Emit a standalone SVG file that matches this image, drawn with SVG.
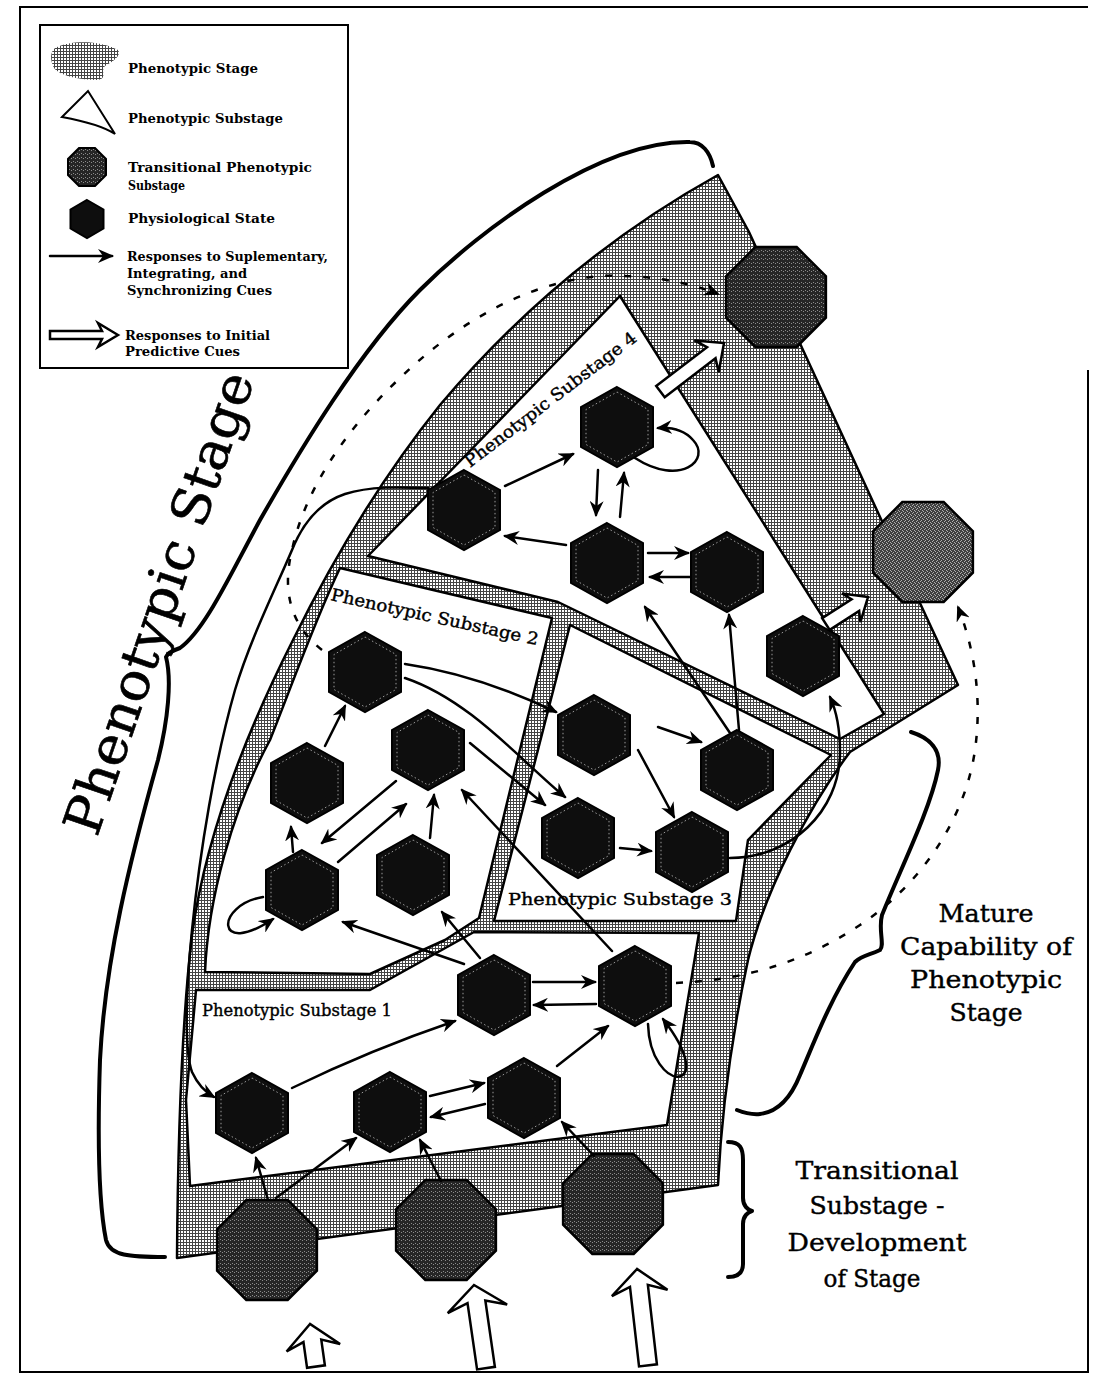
<svg xmlns="http://www.w3.org/2000/svg" width="1095" height="1377" viewBox="0 0 1095 1377">
<defs>
  <pattern id="stip" width="3" height="3" patternUnits="userSpaceOnUse">
    <rect width="3" height="3" fill="#fff"/>
    <rect width="3" height="1" fill="#444"/>
    <rect width="1" height="3" fill="#444"/>
  </pattern>
  <pattern id="octd" width="4" height="4" patternUnits="userSpaceOnUse">
    <rect width="4" height="4" fill="#262626"/>
    <rect x="1" y="1" width="1" height="1" fill="#8c8c8c"/>
    <rect x="3" y="2" width="1" height="1" fill="#8c8c8c"/>
  </pattern>
  <pattern id="octl" width="4" height="4" patternUnits="userSpaceOnUse">
    <rect width="4" height="4" fill="#404040"/>
    <rect x="1" y="1" width="1" height="1" fill="#b0b0b0"/>
    <rect x="3" y="2" width="1" height="1" fill="#b0b0b0"/>
    <rect x="0" y="3" width="1" height="1" fill="#b0b0b0"/>
    <rect x="2" y="0" width="1" height="1" fill="#b0b0b0"/>
  </pattern>
  <path id="hex" d="M0,-40 L36,-20 L36,20 L0,40 L-36,20 L-36,-20 Z"/>
  <path id="hexin" d="M0,-35 L31,-17.5 L31,17.5 L0,35 L-31,17.5 L-31,-17.5 Z"/>
  <path id="octp" d="M-20.7,-49.9 L20.7,-49.9 L49.9,-20.7 L49.9,20.7 L20.7,49.9 L-20.7,49.9 L-49.9,20.7 L-49.9,-20.7 Z"/>
  <marker id="ah" viewBox="0 0 16 14" refX="14" refY="7" markerWidth="16" markerHeight="14" markerUnits="userSpaceOnUse" orient="auto">
    <path d="M0,0 L16,7 L0,14 L5,7 Z" fill="#000"/>
  </marker>
  <style>
    .hx{fill:#0e0e0e;stroke:#000;stroke-width:2}
    .hxi{fill:none;stroke:#9a9a9a;stroke-width:1;stroke-dasharray:1.5 2.5}
    .oc{fill:url(#octd);stroke:#000;stroke-width:2.5}
    .ocl{fill:url(#octl);stroke:#000;stroke-width:2.5}
    .ln{fill:none;stroke:#000;stroke-width:2.5;stroke-linecap:round;marker-end:url(#ah)}
    .dash{fill:none;stroke:#000;stroke-width:2.5;stroke-dasharray:7 12;marker-end:url(#ah)}
    .br{fill:none;stroke:#000;stroke-width:4;stroke-linecap:round;stroke-linejoin:round}
    .sub{fill:#fff;stroke:#000;stroke-width:2.5;stroke-linejoin:round}
    .stage{fill:url(#stip);stroke:#000;stroke-width:2.5;stroke-linejoin:round}
    .ha{fill:#fff;stroke:#000;stroke-width:2.5;stroke-linejoin:miter}
    .lg{font-family:"DejaVu Serif","Liberation Serif",serif;font-weight:bold;font-size:12.5px;fill:#000}
    .lbl{font-family:"DejaVu Serif","Liberation Serif",serif;font-size:17px;fill:#000;stroke:#000;stroke-width:0.4}
    .big{font-family:"DejaVu Serif","Liberation Serif",serif;font-size:25px;fill:#000;stroke:#000;stroke-width:0.4}
  </style>
</defs>

<g id="frame" fill="none" stroke="#000" stroke-width="2">
  <path d="M1088,7 L20,7 L20,1372 L1088,1372 L1088,370"/>
</g>

<!-- legend -->
<g id="legend">
  <rect x="40" y="25" width="308" height="343" fill="#fff" stroke="#000" stroke-width="2"/>
  <path d="M55,48 C70,40 100,40 118,50 C122,56 112,62 105,66 C100,72 108,78 98,80 C80,80 60,76 54,68 C50,60 50,52 55,48 Z" fill="url(#stip)"/>
  <text class="lg" x="128" y="73" textLength="130" lengthAdjust="spacingAndGlyphs">Phenotypic Stage</text>
  <path d="M62,117 L88,91 L115,134 Q100,124 62,117 Z" fill="#fff" stroke="#000" stroke-width="2"/>
  <text class="lg" x="128" y="123" textLength="155" lengthAdjust="spacingAndGlyphs">Phenotypic Substage</text>
  <path d="M79,148 L95,148 L106,159 L106,175 L95,186 L79,186 L68,175 L68,159 Z" fill="url(#octd)" stroke="#000" stroke-width="2"/>
  <text class="lg" x="128" y="172" textLength="184" lengthAdjust="spacingAndGlyphs">Transitional Phenotypic</text>
  <text class="lg" x="128" y="190" textLength="57" lengthAdjust="spacingAndGlyphs">Substage</text>
  <path d="M87,200 L103.5,209.5 L103.5,228.5 L87,238 L70.5,228.5 L70.5,209.5 Z" fill="#0e0e0e" stroke="#000" stroke-width="2"/>
  <text class="lg" x="128" y="223" textLength="147" lengthAdjust="spacingAndGlyphs">Physiological State</text>
  <path d="M50,256 L112,256" class="ln"/>
  <text class="lg" x="127" y="261" textLength="201" lengthAdjust="spacingAndGlyphs">Responses to Suplementary,</text>
  <text class="lg" x="127" y="278" textLength="120" lengthAdjust="spacingAndGlyphs">Integrating, and</text>
  <text class="lg" x="127" y="295" textLength="145" lengthAdjust="spacingAndGlyphs">Synchronizing Cues</text>
  <polygon class="ha" stroke-width="2" points="118,335 98,323 102,331 50,331 50,339 102,339 98,347"/>
  <text class="lg" x="125" y="340" textLength="145" lengthAdjust="spacingAndGlyphs">Responses to Initial</text>
  <text class="lg" x="125" y="356" textLength="115" lengthAdjust="spacingAndGlyphs">Predictive Cues</text>
</g>

<!-- phenotypic stage region -->
<g id="stage">
  <path class="stage" d="M718,175 L749,232 L803,350 L880,517 L958,685 L850,752 C810,805 765,890 748,960 C733,1030 722,1100 718,1185 L177,1258 C178,1120 182,1020 192,935 C205,840 245,735 293,640 C330,565 380,480 440,405 C520,310 610,235 718,175 Z"/>
</g>
<g id="substage4"><path class="sub" d="M620,296 L884,714 L840,739 L558,602 L368,556 Z"/></g>
<g id="substage2"><path class="sub" d="M340,568 L552,618 L479,918 L445,940 L370,974 L205,972 C208,900 232,810 270,740 C290,690 315,620 340,568 Z"/></g>
<g id="substage3"><path class="sub" d="M570,625 L831,755 L748,840 L736,921 L494,921 Z"/></g>
<g id="substage1"><path class="sub" d="M196,990 L370,990 L474,932 L699,933 L667,1125 L190,1186 L186,1100 Z"/></g>

<!-- labels -->
<text class="lbl" x="202" y="1016" textLength="190" lengthAdjust="spacingAndGlyphs">Phenotypic Substage 1</text>
<text class="lbl" x="508" y="905" textLength="224" lengthAdjust="spacingAndGlyphs">Phenotypic Substage 3</text>
<text class="lbl" transform="translate(330,600) rotate(12.3)" textLength="212" lengthAdjust="spacingAndGlyphs">Phenotypic Substage 2</text>
<text class="lbl" transform="translate(470,468) rotate(-37.3)" textLength="211" lengthAdjust="spacingAndGlyphs">Phenotypic Substage 4</text>
<text transform="translate(97,838) rotate(-71)" font-family="DejaVu Serif, Liberation Serif, serif" font-size="52" stroke="#000" stroke-width="0.6" textLength="485" lengthAdjust="spacingAndGlyphs">Phenotypic Stage</text>

<text class="big" x="986" y="922" text-anchor="middle" textLength="95" lengthAdjust="spacingAndGlyphs">Mature</text>
<text class="big" x="986" y="955" text-anchor="middle" textLength="172" lengthAdjust="spacingAndGlyphs">Capability of</text>
<text class="big" x="986" y="988" text-anchor="middle" textLength="152" lengthAdjust="spacingAndGlyphs">Phenotypic</text>
<text class="big" x="986" y="1021" text-anchor="middle" textLength="73" lengthAdjust="spacingAndGlyphs">Stage</text>
<text class="big" x="877" y="1179" text-anchor="middle" textLength="163" lengthAdjust="spacingAndGlyphs">Transitional</text>
<text class="big" x="877" y="1214" text-anchor="middle" textLength="135" lengthAdjust="spacingAndGlyphs">Substage -</text>
<text class="big" x="877" y="1251" text-anchor="middle" textLength="179" lengthAdjust="spacingAndGlyphs">Development</text>
<text class="big" x="872" y="1287" text-anchor="middle" textLength="97" lengthAdjust="spacingAndGlyphs">of Stage</text>

<!-- brackets -->
<g id="brackets">
  <path class="br" d="M713,166 C710,152 702,142 690,142 C600,140 480,230 420,290 C360,350 300,450 260,520 C230,575 205,630 180,648 Q168,652 166,657 C172,680 168,720 158,760 C130,860 105,960 100,1060 C97,1150 100,1210 106,1240 C110,1256 130,1257 165,1257"/>
  <path class="br" stroke-width="3.5" d="M911,732 C930,738 942,750 938,770 C930,810 900,870 882,915 C878,930 885,945 880,950 C870,955 862,955 855,962 C830,1000 815,1040 800,1075 C790,1100 777,1112 760,1114 C750,1115 742,1112 737,1110"/>
  <path class="br" stroke-width="3.5" d="M728,1142 C740,1142 743,1148 743,1160 L743,1198 C743,1206 748,1210 752,1211 C748,1212 743,1216 743,1224 L743,1264 C743,1273 738,1277 728,1277"/>
</g>

<!-- transitional phenotypic substages -->
<g id="o1" transform="translate(776,297)"><use href="#octp" class="oc"/></g>
<g id="o2" transform="translate(923,552)"><use href="#octp" class="ocl"/></g>
<g id="o3" transform="translate(267,1250)"><use href="#octp" class="oc"/></g>
<g id="o4" transform="translate(446,1230)"><use href="#octp" class="oc"/></g>
<g id="o5" transform="translate(613,1204)"><use href="#octp" class="oc"/></g>

<!-- physiological states -->
<g id="h1a" transform="translate(252,1113)"><use href="#hex" class="hx"/><use href="#hexin" class="hxi"/></g>
<g id="h1b" transform="translate(390,1112)"><use href="#hex" class="hx"/><use href="#hexin" class="hxi"/></g>
<g id="h1c" transform="translate(524,1098)"><use href="#hex" class="hx"/><use href="#hexin" class="hxi"/></g>
<g id="h1d" transform="translate(494,995)"><use href="#hex" class="hx"/><use href="#hexin" class="hxi"/></g>
<g id="h1e" transform="translate(635,986)"><use href="#hex" class="hx"/><use href="#hexin" class="hxi"/></g>
<g id="h2a" transform="translate(365,672)"><use href="#hex" class="hx"/><use href="#hexin" class="hxi"/></g>
<g id="h2b" transform="translate(307,783)"><use href="#hex" class="hx"/><use href="#hexin" class="hxi"/></g>
<g id="h2c" transform="translate(428,750)"><use href="#hex" class="hx"/><use href="#hexin" class="hxi"/></g>
<g id="h2d" transform="translate(302,890)"><use href="#hex" class="hx"/><use href="#hexin" class="hxi"/></g>
<g id="h2e" transform="translate(413,875)"><use href="#hex" class="hx"/><use href="#hexin" class="hxi"/></g>
<g id="h3a" transform="translate(594,735)"><use href="#hex" class="hx"/><use href="#hexin" class="hxi"/></g>
<g id="h3b" transform="translate(737,770)"><use href="#hex" class="hx"/><use href="#hexin" class="hxi"/></g>
<g id="h3c" transform="translate(578,838)"><use href="#hex" class="hx"/><use href="#hexin" class="hxi"/></g>
<g id="h3d" transform="translate(692,852)"><use href="#hex" class="hx"/><use href="#hexin" class="hxi"/></g>
<g id="h4a" transform="translate(617,427)"><use href="#hex" class="hx"/><use href="#hexin" class="hxi"/></g>
<g id="h4b" transform="translate(464,510)"><use href="#hex" class="hx"/><use href="#hexin" class="hxi"/></g>
<g id="h4c" transform="translate(607,563)"><use href="#hex" class="hx"/><use href="#hexin" class="hxi"/></g>
<g id="h4d" transform="translate(727,572)"><use href="#hex" class="hx"/><use href="#hexin" class="hxi"/></g>
<g id="h4e" transform="translate(803,656)"><use href="#hex" class="hx"/><use href="#hexin" class="hxi"/></g>

<!-- connectors -->
<g id="connectors">
  <path class="ln" d="M268,1200 L256,1158"/>
  <path class="ln" d="M276,1198 L356,1138"/>
  <path class="ln" d="M441,1181 L420,1140"/>
  <path class="ln" d="M594,1156 L562,1122"/>
  <path class="ln" d="M292,1088 Q370,1050 455,1021"/>
  <path class="ln" d="M430,1096 L484,1083"/>
  <path class="ln" d="M485,1104 L431,1117"/>
  <path class="ln" d="M557,1066 L608,1026"/>
  <path class="ln" d="M533,982 L595,982"/>
  <path class="ln" d="M596,1004 L534,1005"/>
  <path class="ln" d="M648,1024 C650,1095 722,1095 663,1019"/>
  <path class="ln" d="M464,964 L343,922"/>
  <path class="ln" d="M480,958 L442,912"/>
  <path class="ln" d="M612,951 L462,790"/>
  <path class="dash" d="M676,983 C740,980 800,965 860,925 C920,885 965,820 975,750 C982,700 975,650 958,607"/>
  <path class="ln" d="M293,852 L291,827"/>
  <path class="ln" d="M325,746 L345,706"/>
  <path class="ln" d="M396,781 L322,843"/>
  <path class="ln" d="M338,862 L406,804"/>
  <path class="ln" d="M430,838 L434,795"/>
  <path class="ln" d="M263,897 C215,905 215,958 273,919"/>
  <path class="ln" d="M405,664 C460,672 510,690 556,712"/>
  <path class="ln" d="M405,678 C470,700 520,760 565,797"/>
  <path class="ln" d="M470,743 L545,805"/>
  <path class="ln" d="M658,727 L701,742"/>
  <path class="ln" d="M638,750 L674,817"/>
  <path class="ln" d="M620,848 L651,851"/>
  <path class="ln" d="M730,858 C790,858 840,812 840,752 C840,727 836,710 830,697"/>
  <path class="ln" d="M730,733 L645,607"/>
  <path class="ln" d="M739,730 L729,615"/>
  <path class="ln" d="M505,486 L573,454"/>
  <path class="ln" d="M598,470 L596,515"/>
  <path class="ln" d="M620,517 L624,473"/>
  <path class="ln" d="M635,458 C680,487 712,460 693,440 C684,430 672,427 658,428"/>
  <path class="ln" d="M566,545 L505,536"/>
  <path class="ln" d="M648,553 L688,553"/>
  <path class="ln" d="M690,577 L650,577"/>
  <path class="ln" d="M428,488 C400,487 370,486 345,494 C318,503 302,525 292,550 C275,590 250,640 235,690 C215,760 200,850 192,930 C186,990 184,1050 192,1072 C198,1085 205,1092 214,1097"/>
  <path class="dash" d="M322,650 C290,625 282,590 292,550 C305,490 345,430 400,378 C460,320 530,282 600,276 C650,274 690,283 718,294"/>
  <polygon class="ha" transform="translate(724,343) rotate(-37.4)" points="0,0 -22,-20 -16,-7 -80,-7 -80,7 -16,7 -22,20"/>
  <polygon class="ha" transform="translate(868,597) rotate(-32.7)" points="0,0 -20,-17 -15,-7 -50,-7 -50,7 -15,7 -20,17"/>
  <polygon class="ha" transform="translate(310,1324) rotate(-98)" points="0,0 -24,-27 -17,-9 -43,-9 -43,9 -17,9 -24,27"/>
  <polygon class="ha" transform="translate(474,1285) rotate(-98.2)" points="0,0 -24,-30 -17,-9 -84,-9 -84,9 -17,9 -24,30"/>
  <polygon class="ha" transform="translate(637,1269) rotate(-96.5)" points="0,0 -24,-28 -17,-9 -97,-9 -97,9 -17,9 -24,28"/>
</g>
</svg>
